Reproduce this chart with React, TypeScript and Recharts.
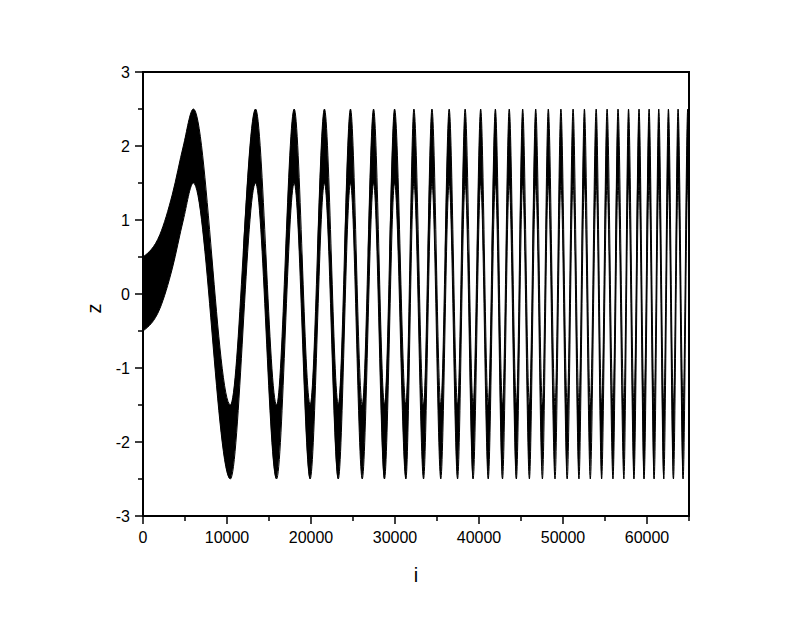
import React from 'react'
import {
  ComposedChart,
  Area,
  XAxis,
  YAxis,
  Label,
  ReferenceArea,
} from 'recharts'

// slow start of the first hump
const rampI = [0, 2000, 3500, 4800]
const rampZ = [0, 0.3, 0.85, 1.5]

// positions of the crests (z centre = 2) and troughs (z centre = -2)
const crestI = [
  6000, 13400, 18000, 21600, 24700, 27450, 29950, 32250, 34400, 36450,
  38350, 40200, 41950, 43600, 45200, 46750, 48250, 49750, 51200, 52550,
  53950, 55250, 56550, 57800, 59050, 60250, 61400, 62550, 63700, 64850,
]
const troughI = [
  10400, 15900, 19900, 23250, 26100, 28750, 31300, 33400, 35450, 37450,
  39300, 41100, 42800, 44450, 46000, 47550, 49050, 50500, 51900, 53250,
  54600, 55950, 57250, 58450, 59650, 60850, 62000, 63150, 64300,
]
const crestZ = 2
const troughZ = -2
const endI = 65000
const endZ = 1.4
// half height of the fast ripple riding on the slow wave
const ripple = 0.5

const xTicks = [0, 5000, 10000, 15000, 20000, 25000, 30000, 35000, 40000, 45000, 50000, 55000, 60000, 65000]
const yTicks = [-3, -2.5, -2, -1.5, -1, -0.5, 0, 0.5, 1, 1.5, 2, 2.5, 3]

const font = '"Liberation Sans", Arial, Helvetica, sans-serif'

const points = [
  ...rampI.map((i, k) => ({ i, z: rampZ[k] })),
  ...crestI.map((i) => ({ i, z: crestZ })),
  ...troughI.map((i) => ({ i, z: troughZ })),
  { i: endI, z: endZ },
].sort((a, b) => a.i - b.i)

const data = points.map((p) => ({ i: p.i, band: [p.z - ripple, p.z + ripple] }))

const XTick = (props: any) => {
  const { x, y, payload } = props
  const major = payload.value % 10000 === 0
  return (
    <g>
      <line x1={x} x2={x} y1={y} y2={y + (major ? 8 : 5)} stroke="#000" strokeWidth={1.5} />
      {major && (
        <text x={x} y={y + 27} textAnchor="middle" fontSize={16} fontFamily={font} fill="#000">
          {payload.value}
        </text>
      )}
    </g>
  )
}

const YTick = (props: any) => {
  const { x, y, payload } = props
  const major = Number.isInteger(payload.value)
  return (
    <g>
      <line x1={x} x2={x - (major ? 8 : 5)} y1={y} y2={y} stroke="#000" strokeWidth={1.5} />
      {major && (
        <text x={x - 13} y={y + 6} textAnchor="end" fontSize={16} fontFamily={font} fill="#000">
          {payload.value}
        </text>
      )}
    </g>
  )
}

export default function App() {
  return (
    <div style={{ width: 784, height: 600, background: '#fff' }}>
      <ComposedChart
        width={784}
        height={600}
        data={data}
        margin={{ top: 64, right: 103, bottom: 0, left: 0 }}
      >
        <XAxis
          type="number"
          dataKey="i"
          domain={[0, 65000]}
          ticks={xTicks}
          interval={0}
          tick={XTick}
          tickLine={false}
          tickSize={0}
          tickMargin={0}
          axisLine={{ stroke: '#000', strokeWidth: 2 }}
          height={92}
          allowDataOverflow
        >
          <Label
            content={({ viewBox }: any) => (
              <text
                x={viewBox.x + viewBox.width / 2}
                y={viewBox.y + 66}
                textAnchor="middle"
                fontSize={20}
                fontFamily={font}
                fill="#000"
              >
                i
              </text>
            )}
          />
        </XAxis>
        <YAxis
          type="number"
          domain={[-3, 3]}
          ticks={yTicks}
          interval={0}
          tick={YTick}
          tickLine={false}
          tickSize={0}
          tickMargin={0}
          axisLine={{ stroke: '#000', strokeWidth: 2 }}
          width={135}
          allowDataOverflow
        >
          <Label
            content={({ viewBox }: any) => {
              const cx = 92.5
              const cy = viewBox.y + viewBox.height / 2 + 14.5
              return (
                <text
                  x={cx}
                  y={cy}
                  textAnchor="middle"
                  fontSize={20}
                  fontFamily={font}
                  fill="#000"
                  transform={`rotate(-90, ${cx}, ${cy})`}
                >
                  z
                </text>
              )
            }}
          />
        </YAxis>
        <Area
          type="monotone"
          dataKey="band"
          stroke="#000"
          strokeWidth={1}
          fill="#000"
          fillOpacity={1}
          dot={false}
          activeDot={false}
          isAnimationActive={false}
        />
        <ReferenceArea
          x1={0}
          x2={65000}
          y1={-3}
          y2={3}
          fill="none"
          fillOpacity={0}
          stroke="#000"
          strokeWidth={2}
        />
      </ComposedChart>
    </div>
  )
}
